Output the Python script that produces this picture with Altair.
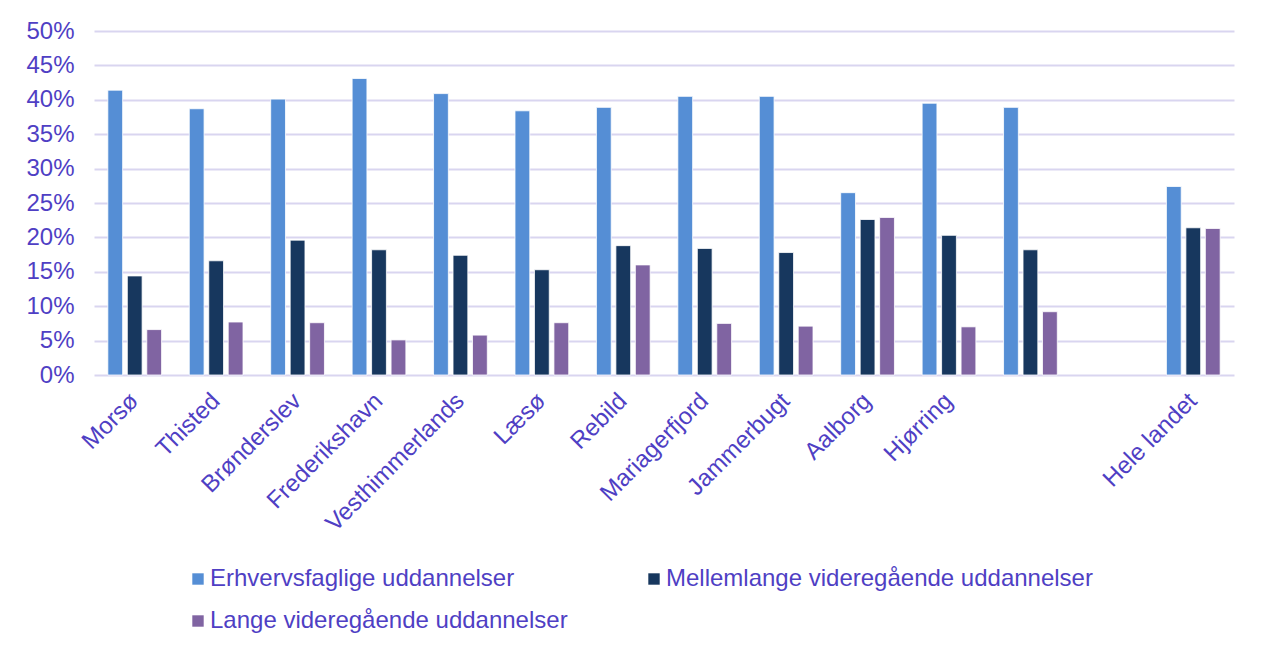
import altair as alt
import pandas as pd

# ---- data ----
categories = ["Morsø", "Thisted", "Brønderslev", "Frederikshavn", "Vesthimmerlands",
              "Læsø", "Rebild", "Mariagerfjord", "Jammerbugt", "Aalborg", "Hjørring",
              "_blank1", "_blank2", "Hele landet"]
series = ["Erhvervsfaglige uddannelser",
          "Mellemlange videregående uddannelser",
          "Lange videregående uddannelser"]
erhverv = [41.4, 38.7, 40.1, 43.1, 40.9, 38.4, 38.9, 40.5, 40.5, 26.5, 39.5, 38.9, None, 27.4]
mellem  = [14.4, 16.6, 19.6, 18.2, 17.4, 15.3, 18.8, 18.4, 17.8, 22.6, 20.3, 18.2, None, 21.4]
lange   = [6.6, 7.7, 7.6, 5.1, 5.8, 7.6, 16.0, 7.5, 7.1, 22.9, 7.0, 9.2, None, 21.3]
colors = ["#558ED5", "#17375E", "#8064A2"]

rows = []
for s, vals in zip(series, [erhverv, mellem, lange]):
    for c, v in zip(categories, vals):
        if v is not None:
            rows.append({"kommune": c, "serie": s, "andel": v / 100})
df = pd.DataFrame(rows)

TXT = "#4F3FC4"
GRID = "#D9D5F0"

chart = alt.Chart(df).mark_bar(stroke="white", strokeWidth=0.8).encode(
    x=alt.X("kommune:N", sort=categories,
            scale=alt.Scale(domain=categories, paddingInner=0.34, paddingOuter=0.17),
            axis=alt.Axis(title=None, labelAngle=-45, labelAlign="right",
                          labelBaseline="middle", labelFontSize=24, labelColor=TXT,
                          labelFont="Liberation Sans", labelPadding=22, ticks=False,
                          domain=False, grid=False, labelLimit=400,
                          labelExpr="indexof(['_blank1','_blank2'], datum.value) >= 0 ? '' : datum.value")),
    xOffset=alt.XOffset("serie:N", sort=series,
                        scale=alt.Scale(domain=series, paddingInner=0.24, paddingOuter=0)),
    y=alt.Y("andel:Q", scale=alt.Scale(domain=[0, 0.5], nice=False),
            axis=alt.Axis(title=None, format=".0%", values=[i / 100 for i in range(0, 55, 5)],
                          labelFontSize=24, labelColor=TXT, labelFont="Liberation Sans",
                          labelPadding=20, ticks=False, domain=False,
                          gridColor=GRID, gridWidth=2)),
    color=alt.Color("serie:N", sort=series,
                    scale=alt.Scale(domain=series, range=colors),
                    legend=alt.Legend(title=None, orient="none", legendX=92, legendY=536,
                                      direction="horizontal",
                                      columns=2, columnPadding=74, rowPadding=18,
                                      symbolType="square", symbolSize=130,
                                      symbolStrokeWidth=0, symbolOffset=0,
                                      labelFontSize=24, labelColor=TXT,
                                      labelFont="Liberation Sans", labelLimit=600,
                                      labelOffset=0, padding=0)),
).properties(
    width=1140, height=344,
    autosize=alt.AutoSizeParams(type="none"),
    padding={"left": 86, "top": 23, "right": 20, "bottom": 269},
).configure(background="white").configure_view(stroke=None, strokeWidth=0)

chart.save("out.html", embed_options={"renderer": "svg", "actions": False})
